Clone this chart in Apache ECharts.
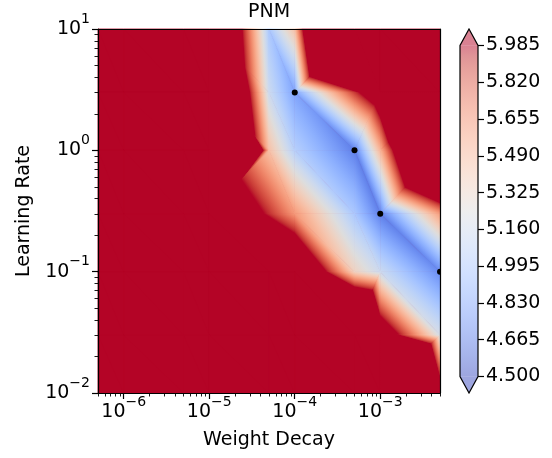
<!DOCTYPE html>
<html>
<head>
<meta charset="utf-8">
<title>PNM</title>
<script src="https://cdn.jsdelivr.net/npm/echarts@6/dist/echarts.min.js"></script>
<style>
  html, body { margin: 0; padding: 0; background: #fff; }
  #main { width: 552px; height: 458px; }
</style>
</head>
<body>
<div id="main"></div>
<script>
// runs: weight decay (columns) x learning rate (rows)
var weightDecay = [5e-7, 1e-6, 5e-6, 1e-5, 5e-5, 1e-4, 5e-4, 1e-3, 5e-3];
var learningRate = [10, 3, 1, 0.3, 0.1, 0.03, 0.01];

// loss for each learning rate, one value per weight decay
var lossLr10  = [7.0, 7.0, 7.0, 7.2, 5.0, 5.45, 9.5, 9.0, 9.0];
var lossLr3   = [7.0, 7.0, 7.0, 7.74, 5.15, 4.82, 5.9, 6.35, 9.0];
var lossLr1   = [7.0, 7.0, 7.0, 11.0, 5.45, 5.05, 4.68, 5.5, 7.8];
var lossLr03  = [7.0, 7.0, 7.0, 6.61, 5.93, 5.62, 5.0, 4.68, 5.6];
var lossLr01  = [7.0, 7.0, 7.0, 7.0, 7.0, 6.7, 5.35, 5.15, 4.72];
var lossLr003 = [7.0, 7.0, 7.0, 7.0, 7.0, 7.0, 8.0, 6.35, 5.2];
var lossLr001 = [7.0, 7.0, 7.0, 7.0, 7.0, 7.0, 7.0, 10.4, 6.27];
var lossRows = [lossLr10, lossLr3, lossLr1, lossLr03, lossLr01, lossLr003, lossLr001];

// best learning rate per weight decay (black dots)
var bestWd = [1e-4, 5e-4, 1e-3, 5e-3];
var bestLr = [3, 1, 0.3, 0.1];

var xTicks = [1e-6, 1e-5, 1e-4, 1e-3];
var yTicks = [0.01, 0.1, 1, 10];
var cbarTicks = [4.5, 4.665, 4.83, 4.995, 5.16, 5.325, 5.49, 5.655, 5.82, 5.985];

// grid cells (col,row) that the triangulation splits along the other diagonal
var flippedCells = ['3,2', '5,0', '6,1', '7,1', '7,2', '6,4', '7,5'];

// coolwarm colormap
var coolwarm = [
  [59,76,192],[68,90,204],[77,104,215],[87,117,225],[98,130,234],[108,142,241],[119,154,247],
  [130,165,251],[141,176,254],[152,185,255],[163,194,255],[174,201,253],[184,208,249],[194,213,244],
  [204,217,238],[213,219,230],[221,221,221],[229,216,209],[236,211,197],[241,204,185],[245,196,173],
  [247,187,160],[247,177,148],[247,166,135],[244,154,123],[241,141,111],[236,127,99],[229,112,88],
  [222,96,77],[213,80,66],[203,62,56],[192,40,47],[180,4,38]
];
var vmin = cbarTicks[0], vmax = cbarTicks[cbarTicks.length - 1];
var NC = coolwarm.length - 1;

function rgb(c) { return 'rgb(' + Math.round(c[0]) + ',' + Math.round(c[1]) + ',' + Math.round(c[2]) + ')'; }
function cmap(v) {
  var t = (v - vmin) / (vmax - vmin);
  if (t <= 0) return rgb(coolwarm[0]);
  if (t >= 1) return rgb(coolwarm[NC]);
  var f = t * NC, i = Math.floor(f), r = f - i;
  var a = coolwarm[i], b = coolwarm[Math.min(i + 1, NC)];
  return rgb([a[0] + (b[0] - a[0]) * r, a[1] + (b[1] - a[1]) * r, a[2] + (b[2] - a[2]) * r]);
}
function stopsFor(lo, hi) {
  var vals = [lo];
  for (var k = 0; k <= NC; k++) {
    var bv = vmin + (vmax - vmin) * k / NC;
    if (bv > lo && bv < hi) vals.push(bv);
  }
  vals.push(hi);
  return vals.map(function (v) { return { offset: (v - lo) / (hi - lo), color: cmap(v) }; });
}
// linear interpolation over a triangle = linear gradient along the value gradient
function triFill(p, w) {
  var lo = Math.min(w[0], w[1], w[2]), hi = Math.max(w[0], w[1], w[2]);
  if (lo >= vmax || hi <= vmin || hi - lo < 1e-9) return cmap(lo);
  var d1x = p[1][0] - p[0][0], d1y = p[1][1] - p[0][1];
  var d2x = p[2][0] - p[0][0], d2y = p[2][1] - p[0][1];
  var dw1 = w[1] - w[0], dw2 = w[2] - w[0];
  var det = d1x * d2y - d1y * d2x;
  if (Math.abs(det) < 1e-9) return cmap((lo + hi) / 2);
  var a = (dw1 * d2y - d1y * dw2) / det, b = (d1x * dw2 - dw1 * d2x) / det;
  var g2 = a * a + b * b;
  var iMin = w.indexOf(lo);
  var sx = p[iMin][0], sy = p[iMin][1];
  return {
    type: 'linear', global: true,
    x: sx, y: sy, x2: sx + a * (hi - lo) / g2, y2: sy + b * (hi - lo) / g2,
    colorStops: stopsFor(lo, hi)
  };
}

// triangles of the run grid
var triData = [];
for (var r = 0; r < learningRate.length - 1; r++) {
  for (var c = 0; c < weightDecay.length - 1; c++) {
    var tl = [c, r], tr = [c + 1, r], bl = [c, r + 1], br = [c + 1, r + 1];
    var tris = flippedCells.indexOf(c + ',' + r) >= 0 ? [[tl, tr, bl], [tr, br, bl]] : [[tl, tr, br], [tl, br, bl]];
    tris.forEach(function (t) {
      var item = [];
      t.forEach(function (n) { item.push(Math.log10(weightDecay[n[0]]), Math.log10(learningRate[n[1]])); });
      t.forEach(function (n) { item.push(lossRows[n[1]][n[0]]); });
      triData.push(item);
    });
  }
}

var XMIN = Math.log10(weightDecay[0]), XMAX = Math.log10(weightDecay[weightDecay.length - 1]);
var YMIN = Math.log10(learningRate[learningRate.length - 1]), YMAX = Math.log10(learningRate[0]);

function minorTicks(lo, hi) {
  var out = [];
  for (var e = Math.floor(lo) - 1; e <= Math.ceil(hi); e++) {
    for (var m = 2; m <= 9; m++) {
      var v = e + Math.log10(m);
      if (v >= lo - 1e-9 && v <= hi + 1e-9) out.push(v);
    }
  }
  return out;
}
function powLabel(v) {
  var e = Math.round(v);
  return '{b|10}{s|' + (e < 0 ? '\u2212' + (-e) : e) + '}';
}
var FONT = 'DejaVu Sans';
var richPow = {
  b: { fontSize: 19, fontFamily: FONT, color: '#000', lineHeight: 34 },
  s: { fontSize: 14, fontFamily: FONT, color: '#000', lineHeight: 16, verticalAlign: 'top' }
};
var frameLine = { color: '#000', width: 1.2 };

function majorAxis(dim, lo, hi, ticks, extra) {
  var vals = ticks.map(function (t) { return Math.log10(t); });
  var ax = {
    type: 'value', gridIndex: 0, min: lo, max: hi, z: 10,
    position: dim === 'x' ? 'bottom' : 'left',
    axisLine: { show: true, onZero: false, lineStyle: frameLine },
    axisTick: { show: true, customValues: vals, length: 6, lineStyle: { color: '#000', width: 1.2 } },
    axisLabel: { show: true, customValues: vals, formatter: powLabel, rich: richPow,
      showMinLabel: true, showMaxLabel: true, margin: dim === 'x' ? 2 : 8 },
    splitLine: { show: false }
  };
  for (var k in extra) ax[k] = extra[k];
  return ax;
}
function minorAxis(dim, lo, hi) {
  return {
    type: 'value', gridIndex: 0, min: lo, max: hi, z: 10,
    position: dim === 'x' ? 'bottom' : 'left',
    axisLine: { show: false, onZero: false },
    axisTick: { show: true, customValues: minorTicks(lo, hi), length: 3.5, lineStyle: { color: '#000', width: 0.9 } },
    axisLabel: { show: false },
    splitLine: { show: false }
  };
}
// top / right side of the frame
function frameAxis(pos, lo, hi) {
  return {
    type: 'value', gridIndex: 0, min: lo, max: hi, z: 10, position: pos,
    axisLine: { show: true, onZero: false, lineStyle: frameLine },
    axisTick: { show: false }, axisLabel: { show: false }, splitLine: { show: false }
  };
}

var myChart = echarts.init(document.getElementById('main'));
var option = {
  animation: false,
  backgroundColor: '#fff',
  textStyle: { fontFamily: FONT },
  graphic: [{
    type: 'text', x: 269, y: 12,
    style: { text: 'PNM', fontSize: 19, fontFamily: FONT, fill: '#000', align: 'center', verticalAlign: 'middle' }
  }],
  grid: [
    // area beyond the top of the colour range is the colormap "over" colour
    { left: 98, top: 29, width: 342, height: 364, show: true, borderWidth: 0,
      backgroundColor: cmap(vmax + 1) },
    { left: 460, top: 45.5, width: 18, height: 331 }
  ],
  xAxis: [
    majorAxis('x', XMIN, XMAX, xTicks, { name: 'Weight Decay', nameLocation: 'middle', nameGap: 38,
      nameTextStyle: { fontSize: 19, fontFamily: FONT, color: '#000' } }),
    minorAxis('x', XMIN, XMAX),
    frameAxis('top', XMIN, XMAX),
    { type: 'value', gridIndex: 1, min: 0, max: 1, show: false, axisLine: { onZero: false } }
  ],
  yAxis: [
    majorAxis('y', YMIN, YMAX, yTicks, { name: 'Learning Rate', nameLocation: 'middle', nameGap: 64, nameRotate: 90,
      nameTextStyle: { fontSize: 19, fontFamily: FONT, color: '#000' } }),
    minorAxis('y', YMIN, YMAX),
    frameAxis('right', YMIN, YMAX),
    {
      type: 'value', gridIndex: 1, min: vmin, max: vmax, position: 'right', z: 10,
      axisLine: { show: false, onZero: false },
      axisTick: { show: true, customValues: cbarTicks, length: 6, lineStyle: { color: '#000', width: 1.2 } },
      axisLabel: { show: true, customValues: cbarTicks, margin: 8, fontSize: 19, fontFamily: FONT, color: '#000',
        showMinLabel: true, showMaxLabel: true,
        formatter: function (v) { return v.toFixed(3); } },
      splitLine: { show: false }
    }
  ],
  series: [
    {
      type: 'custom', name: 'loss', xAxisIndex: 0, yAxisIndex: 0, silent: true, z: 2,
      dimensions: ['x0', 'y0', 'x1', 'y1', 'x2', 'y2', 'w0', 'w1', 'w2'],
      encode: { x: [0, 2, 4], y: [1, 3, 5] },
      data: triData,
      renderItem: function (params, api) {
        var p = [], w = [];
        for (var k = 0; k < 3; k++) {
          p.push(api.coord([api.value(2 * k), api.value(2 * k + 1)]));
          w.push(api.value(6 + k));
        }
        var fill = triFill(p, w);
        return { type: 'polygon', shape: { points: p }, style: { fill: fill, stroke: fill, lineWidth: 0.8 } };
      }
    },
    {
      type: 'custom', name: 'best', xAxisIndex: 0, yAxisIndex: 0, silent: true, z: 5, clip: true,
      data: bestWd.map(function (wd, i) { return [Math.log10(wd), Math.log10(bestLr[i])]; }),
      renderItem: function (params, api) {
        var c = api.coord([api.value(0), api.value(1)]);
        return { type: 'circle', shape: { cx: c[0], cy: c[1], r: 3 }, style: { fill: '#000' } };
      }
    },
    {
      type: 'custom', name: 'colorbar', xAxisIndex: 3, yAxisIndex: 3, silent: true, z: 2,
      data: [[0, vmin, 1, vmax]],
      renderItem: function (params, api) {
        var lb = api.coord([api.value(0), api.value(1)]);
        var rt = api.coord([api.value(2), api.value(3)]);
        var x0 = lb[0], x1 = rt[0], yTop = rt[1], yBot = lb[1];
        var ext = 0.05 * (yBot - yTop), xm = (x0 + x1) / 2;
        var stops = coolwarm.map(function (col, k) { return { offset: k / NC, color: rgb(col) }; });
        return {
          type: 'group',
          children: [
            { type: 'rect', shape: { x: x0, y: yTop, width: x1 - x0, height: yBot - yTop },
              style: { fill: { type: 'linear', x: 0, y: 1, x2: 0, y2: 0, colorStops: stops }, opacity: 0.5 } },
            { type: 'polygon', shape: { points: [[x0, yTop], [xm, yTop - ext], [x1, yTop]] },
              style: { fill: cmap(vmax + 1), opacity: 0.5 } },
            { type: 'polygon', shape: { points: [[x0, yBot], [xm, yBot + ext], [x1, yBot]] },
              style: { fill: cmap(vmin - 1), opacity: 0.5 } },
            { type: 'polygon', shape: { points: [[xm, yBot + ext], [x0, yBot], [x0, yTop], [xm, yTop - ext], [x1, yTop], [x1, yBot]] },
              style: { fill: 'none', stroke: '#000', lineWidth: 1.2 } }
          ]
        };
      }
    }
  ]
};
myChart.setOption(option);
</script>
</body>
</html>
